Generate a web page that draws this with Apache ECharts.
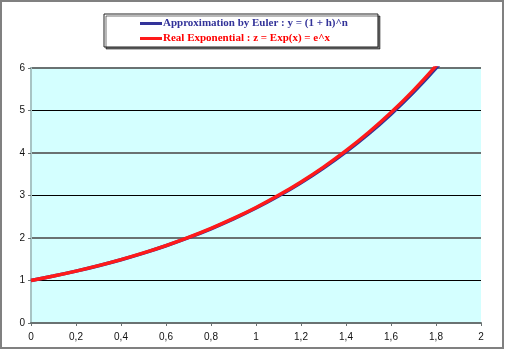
<!DOCTYPE html>
<html>
<head>
<meta charset="utf-8">
<script src="https://cdn.jsdelivr.net/npm/echarts@6/dist/echarts.min.js"></script>
<style>html,body{margin:0;padding:0;background:#fff}#c{width:505px;height:351px}</style>
</head>
<body>
<div id="c"></div>
<script>
const xValues = [0, 0.1, 0.2, 0.3, 0.4, 0.5, 0.6, 0.7, 0.8, 0.9, 1.0, 1.1, 1.2, 1.3, 1.4, 1.5, 1.6, 1.7, 1.8, 1.9];
const eulerValues = [1, 1.105, 1.220, 1.348, 1.489, 1.645, 1.817, 2.007, 2.217, 2.449, 2.705, 2.988, 3.300, 3.646, 4.027, 4.448, 4.914, 5.428, 5.996, 6.623];
const expValues = [1, 1.105, 1.221, 1.350, 1.492, 1.649, 1.822, 2.014, 2.226, 2.460, 2.718, 3.004, 3.320, 3.669, 4.055, 4.482, 4.953, 5.474, 6.050, 6.686];
const xTicks = ['0', '0,2', '0,4', '0,6', '0,8', '1', '1,2', '1,4', '1,6', '1,8', '2'];
const seriesNames = ['Approximation by Euler : y = (1 + h)^n', 'Real Exponential : z = Exp(x) = e^x'];

const chart = echarts.init(document.getElementById('c'), null, {renderer: 'canvas'});
const labelFont = {fontFamily: 'Liberation Sans, Arial', fontSize: 10, color: '#111'};
chart.setOption({
  animation: false,
  graphic: [{
    type: 'rect', shape: {x: 1, y: 1, width: 502, height: 347},
    style: {fill: 'none', stroke: '#808080', lineWidth: 2}, silent: true, z: -10
  }],
  legend: {
    left: 104, top: 14, orient: 'vertical',
    padding: [4, 30, 3, 36], itemGap: 4,
    borderColor: '#222', borderWidth: 1,
    shadowColor: 'rgba(0,0,0,0.55)', shadowOffsetX: 2, shadowOffsetY: 2, shadowBlur: 0,
    backgroundColor: '#fff',
    itemWidth: 22, itemHeight: 3, icon: 'rect',
    data: [
      {name: seriesNames[0], textStyle: {color: '#333399'}},
      {name: seriesNames[1], textStyle: {color: '#ff0000'}}
    ],
    textStyle: {fontFamily: 'Liberation Serif, Times New Roman', fontWeight: 'bold', fontSize: 11, padding: [0, 0, 0, -4]}
  },
  grid: {left: 31, right: 24, top: 68, bottom: 28, show: true, backgroundColor: '#d4ffff', borderWidth: 0},
  xAxis: {
    type: 'value', min: 0, max: 2, interval: 0.2,
    axisLine: {show: true, lineStyle: {color: '#6a7272', width: 2}},
    axisTick: {show: true, length: 3, lineStyle: {color: '#6a7272', width: 1}},
    splitLine: {show: false},
    axisLabel: Object.assign({margin: 9, formatter: v => xTicks[Math.round(v / 0.2)]}, labelFont)
  },
  yAxis: [{
    type: 'value', min: 0, max: 6, interval: 1,
    axisLine: {show: true, onZero: false, lineStyle: {color: '#6a7272', width: 2}},
    axisTick: {show: true, length: 3, lineStyle: {color: '#6a7272'}},
    splitLine: {show: true, lineStyle: {color: '#000', width: 1}},
    axisLabel: Object.assign({margin: 6}, labelFont)
  }, {
    type: 'value', min: 0, max: 6, interval: 2, position: 'right',
    axisLine: {show: true, lineStyle: {color: '#a8c4c4', width: 2}},
    axisTick: {show: false}, axisLabel: {show: false},
    splitLine: {show: true, lineStyle: {color: '#6a7272', width: 2}}
  }],
  series: [{
    name: seriesNames[0], type: 'line', showSymbol: false, smooth: 0.3, clip: true,
    data: xValues.map((x, i) => [x, eulerValues[i]]),
    lineStyle: {color: '#333399', width: 3.5}, itemStyle: {color: '#333399'}, z: 3
  }, {
    name: seriesNames[1], type: 'line', showSymbol: false, smooth: 0.3, clip: true,
    data: xValues.map((x, i) => [x, expValues[i]]),
    lineStyle: {color: '#ff1a1a', width: 3.5}, itemStyle: {color: '#ff1a1a'}, z: 4
  }]
});
</script>
</body>
</html>
